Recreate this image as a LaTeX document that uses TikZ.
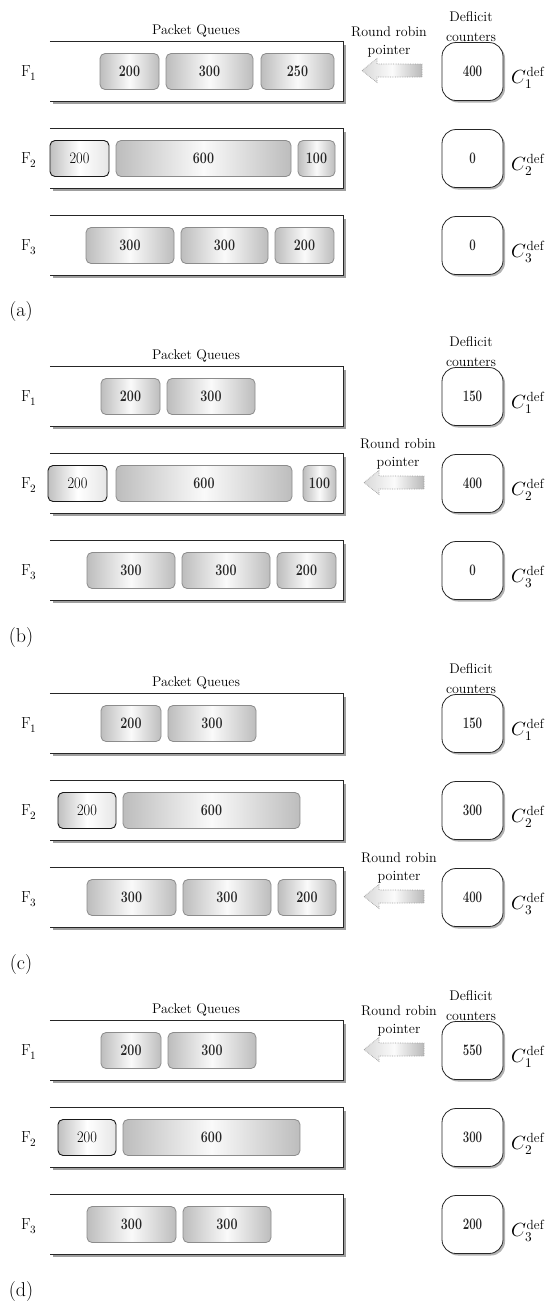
\documentclass[tikz,border=0pt]{standalone}
\usepackage{fontspec}
\usepackage{unicode-math}
\usetikzlibrary{shadows}

\tikzset{
 lbl/.style={inner sep=0pt, font=\fontsize{14}{14}\selectfont},
 flbl/.style={inner sep=0pt, font=\fontsize{16}{16}\selectfont},
 clbl/.style={inner sep=0pt, font=\fontsize{19}{19}\selectfont},
 panellbl/.style={inner sep=0pt, font=\fontsize{20}{20}\selectfont},
 qbox/.style={minimum width=293pt, minimum height=59pt, inner sep=0pt, fill=white},
 qline/.style={draw=black!85, line width=0.7pt},
 qshadow/.style={draw=gray!75, line width=2.5pt},
 packet/.style={draw=black!45, line width=0.8pt, rounded corners=5pt, minimum height=36pt, inner sep=0pt, left color=gray!52, right color=gray!52, middle color=gray!4, text=black!85},
 packetA/.style={draw=black!90, line width=0.9pt, rounded corners=5pt, minimum height=36pt, inner sep=0pt, left color=gray!50, right color=gray!20, middle color=white, text=black},
 ctrbox/.style={draw=black!85, line width=0.8pt, rounded corners=14pt, minimum width=61pt, minimum height=58pt, inner sep=0pt, fill=white, text=black!85, general shadow={shadow xshift=2pt, shadow yshift=-2pt, fill=gray!60}},
 rrarrow/.style={draw=gray!75, densely dotted, line width=0.7pt, left color=gray!30, right color=gray!55, middle color=gray!3},
}

\newcommand\pnum[1]{\scalebox{0.78}[1]{\fontsize{16}{16}\selectfont\bfseries #1}}
\newcommand\pnumr[1]{\scalebox{0.9}[1]{\fontsize{16}{16}\selectfont #1}}
\newcommand\cnum[1]{\scalebox{0.72}[1]{\fontsize{16}{16}\selectfont\bfseries #1}}

% name, x1, x2, rowtop, text, style
\newcommand\mypkt[6]{\node[#6, minimum width={(#3-#2)*1pt}] (#1) at ({(#2+#3)/2},{#4+29.5}) {#5};}
% name, rowtop
\newcommand\myqueue[2]{%
 \node[qbox] (#1) at (196.5,{#2+29.5}) {};
 \draw[qshadow] ([xshift=3pt,yshift=-1.5pt]#1.south west) -- ([xshift=1.5pt,yshift=-1.5pt]#1.south east) -- ([xshift=1.5pt,yshift=-3pt]#1.north east);
 \draw[qline] (#1.north west) -- (#1.north east) -- (#1.south east) -- (#1.south west);}
% name, rowtop, value
\newcommand\myctr[3]{\node[ctrbox] (#1) at (472.5,{#2+29.5}) {\cnum{#3}};}
% prefix, text x, rowtop, arrow tip x
\newcommand\myrrp[4]{%
 \node[lbl] (#1-rr) at (#2,{#3-10.5}) {Round robin};
 \node[lbl] (#1-pt) at (#2,{#3+9.5}) {pointer};
 \coordinate (#1-tip) at (#4,{#3+28.5});
 \draw[rrarrow] (#1-tip) -- ++(15,-12) -- ++(0,5.5) -- ++(45,0) -- ++(0,13) -- ++(-45,0) -- ++(0,5.5) -- cycle;}
% prefix, P, counter values
\newcommand\myhead[5]{%
 \node[lbl] (#1-pq) at (196,{#2-11}) {Packet Queues};
 \node[lbl] (#1-d1) at (471,{#2-25}) {Deflicit};
 \node[lbl] (#1-d2) at (471,{#2-5}) {counters};
 \node[flbl] (#1-f1) at (29,{#2+31}) {F$_1$};
 \node[flbl] (#1-f2) at (29,{#2+87+31}) {F$_2$};
 \node[flbl] (#1-f3) at (29,{#2+174+31}) {F$_3$};
 \myqueue{#1-q1}{#2}
 \myqueue{#1-q2}{#2+87}
 \myqueue{#1-q3}{#2+174}
 \myctr{#1-k1}{#2}{#3}
 \myctr{#1-k2}{#2+87}{#4}
 \myctr{#1-k3}{#2+174}{#5}
 \node[clbl] (#1-c1) at (528,{#2+36}) {$C_1^{\mathrm{def}}$};
 \node[clbl] (#1-c2) at (528,{#2+87+36}) {$C_2^{\mathrm{def}}$};
 \node[clbl] (#1-c3) at (528,{#2+174+36}) {$C_3^{\mathrm{def}}$};
 \node[panellbl] (#1-lbl) at (21,{#2+270}) {(#1)};}

\begin{document}
\begin{tikzpicture}[x=1pt,y=-1pt]
\useasboundingbox (0,0) rectangle (547,1302);

% ---------- (a) ----------
\myhead{a}{42}{400}{0}{0}
\mypkt{a-p11}{100}{159}{42}{\pnum{200}}{packet}
\mypkt{a-p12}{166}{253}{42}{\pnum{300}}{packet}
\mypkt{a-p13}{261}{334}{42}{\pnum{250}}{packet}
\mypkt{a-p21}{50}{109}{129}{\pnumr{200}}{packetA}
\mypkt{a-p22}{116}{291}{129}{\pnum{600}}{packet}
\mypkt{a-p23}{298}{335}{129}{\pnum{100}}{packet}
\mypkt{a-p31}{86}{174}{216}{\pnum{300}}{packet}
\mypkt{a-p32}{181}{268}{216}{\pnum{300}}{packet}
\mypkt{a-p33}{275}{334}{216}{\pnum{200}}{packet}
\myrrp{a}{389}{42}{362}

% ---------- (b) ----------
\myhead{b}{367}{150}{400}{0}
\mypkt{b-p11}{101}{160}{367}{\pnum{200}}{packet}
\mypkt{b-p12}{167}{255}{367}{\pnum{300}}{packet}
\mypkt{b-p21}{48}{107}{454}{\pnumr{200}}{packetA}
\mypkt{b-p22}{116}{292}{454}{\pnum{600}}{packet}
\mypkt{b-p23}{303}{336}{454}{\pnum{100}}{packet}
\mypkt{b-p31}{87}{175}{541}{\pnum{300}}{packet}
\mypkt{b-p32}{182}{270}{541}{\pnum{300}}{packet}
\mypkt{b-p33}{277}{336}{541}{\pnum{200}}{packet}
\myrrp{b}{398}{454}{364}

% ---------- (c) ----------
\myhead{c}{694}{150}{300}{400}
\mypkt{c-p11}{101}{161}{694}{\pnum{200}}{packet}
\mypkt{c-p12}{168}{256}{694}{\pnum{300}}{packet}
\mypkt{c-p21}{58}{116}{781}{\pnumr{200}}{packetA}
\mypkt{c-p22}{123}{300}{781}{\pnum{600}}{packet}
\mypkt{c-p31}{87}{176}{868}{\pnum{300}}{packet}
\mypkt{c-p32}{183}{271}{868}{\pnum{300}}{packet}
\mypkt{c-p33}{278}{336}{868}{\pnum{200}}{packet}
\myrrp{c}{399}{868}{364}

% ---------- (d) ----------
\myhead{d}{1021}{550}{300}{200}
\mypkt{d-p11}{101}{161}{1021}{\pnum{200}}{packet}
\mypkt{d-p12}{168}{256}{1021}{\pnum{300}}{packet}
\mypkt{d-p21}{58}{116}{1108}{\pnumr{200}}{packetA}
\mypkt{d-p22}{123}{300}{1108}{\pnum{600}}{packet}
\mypkt{d-p31}{87}{176}{1195}{\pnum{300}}{packet}
\mypkt{d-p32}{183}{271}{1195}{\pnum{300}}{packet}
\myrrp{d}{399}{1021}{364}

\end{tikzpicture}
\end{document}
